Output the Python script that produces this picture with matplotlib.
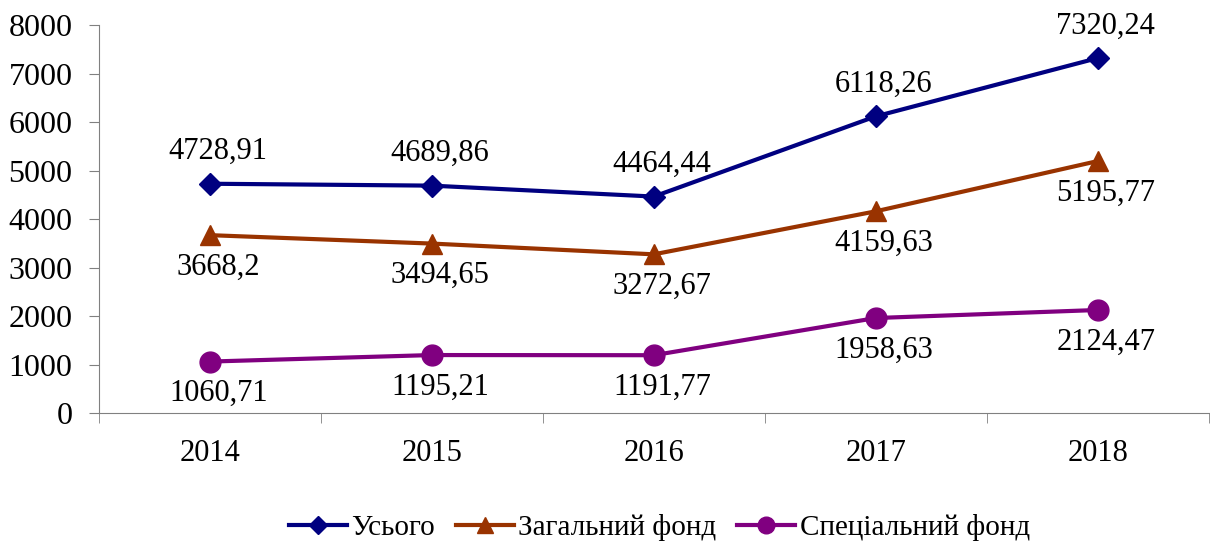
import numpy as np
import matplotlib.pyplot as plt

years = ['2014', '2015', '2016', '2017', '2018']
total = [4728.91, 4689.86, 4464.44, 6118.26, 7320.24]
general = [3668.2, 3494.65, 3272.67, 4159.63, 5195.77]
special = [1060.71, 1195.21, 1191.77, 1958.63, 2124.47]

plt.rcParams['font.family'] = ['Liberation Serif', 'DejaVu Serif']

fig = plt.figure(figsize=(12.1, 5.47), dpi=100)
ax = fig.add_axes([0.0818, 0.245, 0.917, 0.709])

x = np.arange(len(years))

series = [
    (total, 'Усього', '#000080', 'D', 11, 23),
    (general, 'Загальний фонд', '#993300', '^', 14, -23),
    (special, 'Спеціальний фонд', '#800080', 'o', 15, -23),
]

for vals, name, col, mk, ms, off in series:
    ax.plot(x, vals, color=col, lw=3, marker=mk, ms=ms, label=name)
    for xi, v in zip(x, vals):
        txt = ('%g' % v).replace('.', ',')
        ax.annotate(txt, (xi, v), xytext=(6, off), textcoords='offset points',
                    ha='center', va='center', fontsize=22)

ax.set_xlim(-0.5, 4.5)
ax.set_ylim(0, 8000)
ax.set_yticks(range(0, 8001, 1000))
ax.set_xticks(x)
ax.set_xticklabels(years)
ax.set_xticks(np.arange(-0.5, 5, 1), minor=True)
ax.tick_params(axis='x', which='major', length=0, pad=19, labelsize=22)
ax.tick_params(axis='x', which='minor', length=7, color='#808080')
ax.tick_params(axis='y', length=7, color='#808080', labelsize=23, pad=12)

for s in ['top', 'right']:
    ax.spines[s].set_visible(False)
for s in ['left', 'bottom']:
    ax.spines[s].set_color('#808080')

ax.legend(loc='center', bbox_to_anchor=(0.505, -0.296), ncol=3, frameon=False,
          fontsize=21, handlelength=2.0, handletextpad=0.15, columnspacing=0.7,
          markerscale=0.8)

fig.savefig('out.png', dpi=100)
